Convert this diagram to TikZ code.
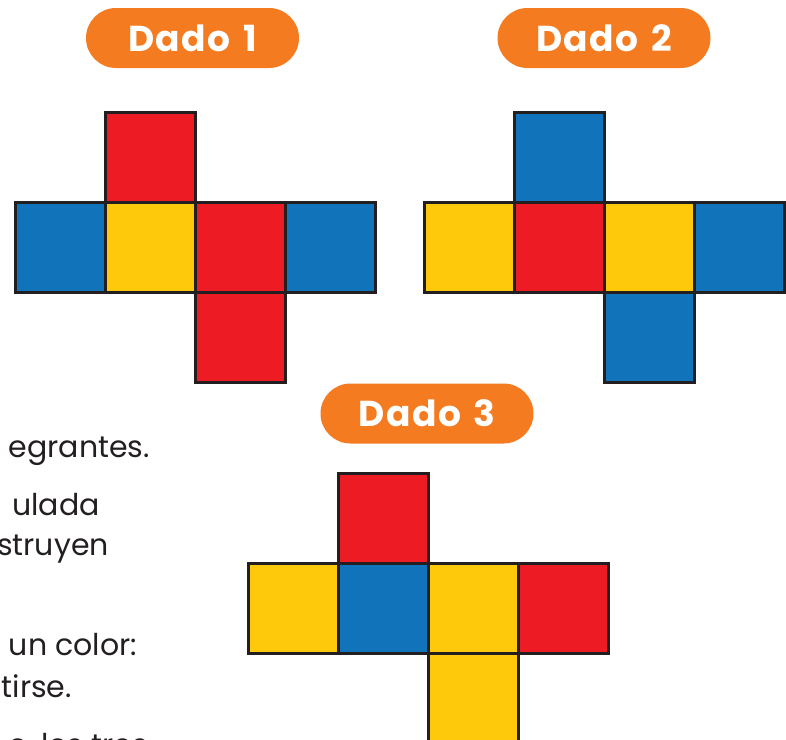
\documentclass[tikz,border=0pt]{standalone}
\usepackage{fontspec}
\setmainfont{Poppins}
\newfontfamily\pillfont[LetterSpace=4.0]{Poppins}
\definecolor{cred}{HTML}{ED1C24}
\definecolor{cblue}{HTML}{1174BB}
\definecolor{cyel}{HTML}{FFC90B}
\definecolor{corange}{HTML}{F47B20}
\definecolor{cink}{HTML}{231F20}
\tikzset{
  sq/.style={draw=cink, line width=3pt, rectangle, minimum width=90pt, minimum height=90pt, inner sep=0pt, anchor=north west},
  pill/.style={fill=corange, rounded corners=30pt, minimum width=213pt, minimum height=60pt, inner sep=0pt, text=white, font=\fontsize{36}{40}\selectfont\pillfont\bfseries},
  body/.style={anchor=base east, inner sep=0pt, text=cink, font=\fontsize{30}{36}\selectfont}
}
\begin{document}
\begin{tikzpicture}[x=1pt,y=-1pt]
\useasboundingbox (0,0) rectangle (786,739);
\clip (0,0) rectangle (786,739);
% labels
\node[pill] (p1) at (192.5,38) {Dado\hspace{0.35em}1};
\node[pill] (p2) at (604,38) {Dado\hspace{0.35em}2};
\node[pill] (p3) at (427,413.5) {Dado\hspace{0.35em}3};
% Dado 1
\node[sq, fill=cred]  (a1) at (104,111) {};
\node[sq, fill=cblue] (a2) at (14,201) {};
\node[sq, fill=cyel]  (a3) at (104,201) {};
\node[sq, fill=cred]  (a4) at (194,201) {};
\node[sq, fill=cblue] (a5) at (284,201) {};
\node[sq, fill=cred]  (a6) at (194,291) {};
% Dado 2
\node[sq, fill=cblue] (b1) at (513,111) {};
\node[sq, fill=cyel]  (b2) at (423,201) {};
\node[sq, fill=cred]  (b3) at (513,201) {};
\node[sq, fill=cyel]  (b4) at (603,201) {};
\node[sq, fill=cblue] (b5) at (693,201) {};
\node[sq, fill=cblue] (b6) at (603,291) {};
% Dado 3
\node[sq, fill=cred]  (c1) at (337,472) {};
\node[sq, fill=cyel]  (c2) at (247,562) {};
\node[sq, fill=cblue] (c3) at (337,562) {};
\node[sq, fill=cyel]  (c4) at (427,562) {};
\node[sq, fill=cred]  (c5) at (517,562) {};
\node[sq, fill=cyel]  (c6) at (427,652) {};
% body text fragments
\node[body] (t1) at (150,457) {egrantes.};
\node[body] (t2) at (100,515) {ulada};
\node[body] (t3) at (109,555) {struyen};
\node[body] (t4) at (137,655) {un color:};
\node[body] (t5) at (72,697) {tirse.};
\node[body] (t6) at (148,755) {o, los tres};
\end{tikzpicture}
\end{document}
